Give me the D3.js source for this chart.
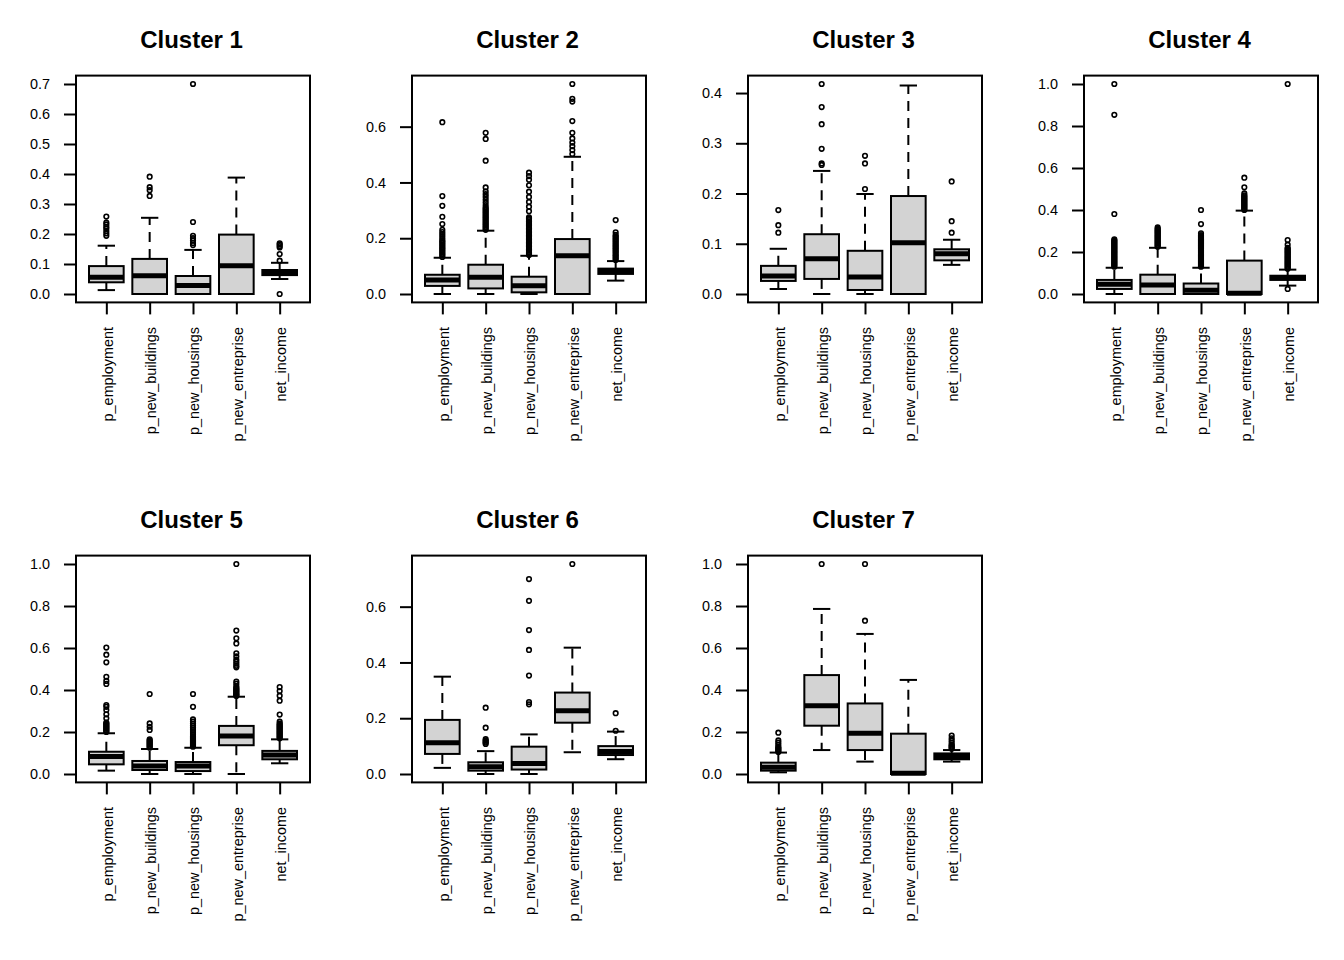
<!DOCTYPE html>
<html>
<head>
<meta charset="utf-8">
<script src="https://cdn.jsdelivr.net/npm/d3@7"></script>
<style>
  html, body { margin: 0; padding: 0; background: #ffffff; }
  svg { display: block; }
  text { font-family: "Liberation Sans", Arial, sans-serif; fill: #000; }
</style>
</head>
<body>
<svg id="chart" width="1344" height="960"></svg>
<script>
// ---------------- data ----------------
const variables = ["p_employment", "p_new_buildings", "p_new_housings", "p_new_entreprise", "net_income"];
const clusterTitles = ["Cluster 1", "Cluster 2", "Cluster 3", "Cluster 4", "Cluster 5", "Cluster 6", "Cluster 7"];

// box statistics per variable: [lower whisker, Q1, median, Q3, upper whisker]
const c1Stats = [[0.013, 0.039, 0.056, 0.093, 0.161], [0, 0, 0.061, 0.117, 0.254], [0, 0, 0.028, 0.060, 0.147], [0, 0, 0.094, 0.198, 0.388], [0.050, 0.063, 0.072, 0.080, 0.104]];
const c2Stats = [[0, 0.029, 0.050, 0.069, 0.130], [0, 0.020, 0.060, 0.105, 0.227], [0, 0.006, 0.030, 0.062, 0.137], [0, 0, 0.137, 0.197, 0.492], [0.048, 0.072, 0.081, 0.091, 0.118]];
const c3Stats = [[0.010, 0.026, 0.036, 0.056, 0.090], [0, 0.030, 0.070, 0.119, 0.245], [0, 0.008, 0.034, 0.086, 0.199], [0, 0, 0.102, 0.195, 0.415], [0.058, 0.067, 0.080, 0.089, 0.108]];
const c4Stats = [[0, 0.024, 0.046, 0.067, 0.125], [0, 0, 0.043, 0.092, 0.220], [0, 0, 0.018, 0.050, 0.125], [0, 0, 0.004, 0.159, 0.397], [0.040, 0.067, 0.079, 0.087, 0.116]];
const c5Stats = [[0.016, 0.046, 0.083, 0.106, 0.194], [0, 0.019, 0.038, 0.062, 0.119], [0, 0.014, 0.038, 0.057, 0.125], [0, 0.137, 0.181, 0.229, 0.368], [0.051, 0.070, 0.090, 0.110, 0.165]];
const c6Stats = [[0.022, 0.072, 0.112, 0.194, 0.349], [0, 0.012, 0.026, 0.042, 0.082], [0, 0.016, 0.038, 0.098, 0.142], [0.078, 0.184, 0.227, 0.292, 0.453], [0.053, 0.068, 0.081, 0.100, 0.152]];
const c7Stats = [[0.008, 0.016, 0.032, 0.054, 0.102], [0.114, 0.230, 0.325, 0.471, 0.786], [0.059, 0.114, 0.194, 0.336, 0.667], [0, 0, 0.004, 0.192, 0.448], [0.059, 0.070, 0.083, 0.098, 0.114]];

// outliers per variable
const c1Outliers = [
  [0.194, 0.202, 0.210, 0.218, 0.224, 0.232, 0.238, 0.258],
  [0.327, 0.346, 0.356, 0.391],
  [0.163, 0.170, 0.178, 0.186, 0.194, 0.240, 0.700],
  [],
  [0, 0.111, 0.133, 0.155, 0.160, 0.165, 0.169]
];
const c2Outliers = [
  [0.133, 0.138, 0.143, 0.148, 0.153, 0.158, 0.163, 0.168, 0.173, 0.178, 0.183, 0.188, 0.193, 0.200, 0.208, 0.215, 0.222, 0.230, 0.251, 0.277, 0.316, 0.351, 0.616],
  [0.230, 0.235, 0.240, 0.245, 0.250, 0.255, 0.260, 0.265, 0.270, 0.275, 0.280, 0.285, 0.290, 0.295, 0.300, 0.305, 0.310, 0.318, 0.328, 0.338, 0.348, 0.358, 0.368, 0.382, 0.478, 0.556, 0.578],
  [0.140, 0.145, 0.150, 0.155, 0.160, 0.165, 0.170, 0.175, 0.180, 0.185, 0.190, 0.195, 0.200, 0.205, 0.210, 0.215, 0.220, 0.225, 0.230, 0.235, 0.240, 0.245, 0.250, 0.255, 0.260, 0.265, 0.270, 0.275, 0.297, 0.313, 0.330, 0.348, 0.367, 0.390, 0.410, 0.423, 0.435],
  [0.502, 0.516, 0.530, 0.543, 0.558, 0.578, 0.620, 0.690, 0.700, 0.753],
  [0.122, 0.127, 0.132, 0.137, 0.142, 0.147, 0.152, 0.157, 0.162, 0.167, 0.172, 0.177, 0.182, 0.187, 0.192, 0.197, 0.202, 0.207, 0.212, 0.221, 0.265]
];
const c3Outliers = [
  [0.122, 0.137, 0.167],
  [0.257, 0.260, 0.289, 0.338, 0.372, 0.418],
  [0.209, 0.260, 0.275],
  [],
  [0.122, 0.145, 0.224]
];
const c4Outliers = [
  [0.130, 0.135, 0.140, 0.145, 0.150, 0.155, 0.160, 0.165, 0.170, 0.175, 0.180, 0.185, 0.190, 0.195, 0.200, 0.205, 0.210, 0.215, 0.220, 0.225, 0.230, 0.235, 0.240, 0.245, 0.250, 0.255, 0.260, 0.381, 0.853, 1.000],
  [0.225, 0.230, 0.235, 0.240, 0.245, 0.250, 0.255, 0.260, 0.265, 0.270, 0.275, 0.280, 0.285, 0.290, 0.295, 0.300, 0.305, 0.310, 0.317],
  [0.130, 0.135, 0.140, 0.145, 0.150, 0.155, 0.160, 0.165, 0.170, 0.175, 0.180, 0.185, 0.190, 0.195, 0.200, 0.205, 0.210, 0.215, 0.220, 0.225, 0.230, 0.235, 0.240, 0.245, 0.250, 0.255, 0.260, 0.265, 0.270, 0.275, 0.280, 0.289, 0.333, 0.400],
  [0.400, 0.405, 0.410, 0.415, 0.420, 0.425, 0.430, 0.435, 0.440, 0.445, 0.450, 0.455, 0.460, 0.465, 0.470, 0.479, 0.508, 0.554],
  [0.024, 0.120, 0.125, 0.130, 0.135, 0.140, 0.145, 0.150, 0.155, 0.160, 0.165, 0.170, 0.175, 0.180, 0.185, 0.190, 0.195, 0.200, 0.205, 0.210, 0.215, 0.220, 0.235, 0.257, 1.000]
];
const c5Outliers = [
  [0.200, 0.205, 0.210, 0.215, 0.220, 0.225, 0.230, 0.235, 0.240, 0.245, 0.265, 0.284, 0.305, 0.320, 0.328, 0.429, 0.443, 0.463, 0.532, 0.568, 0.602],
  [0.125, 0.130, 0.135, 0.140, 0.145, 0.150, 0.155, 0.160, 0.165, 0.210, 0.225, 0.241, 0.381],
  [0.130, 0.135, 0.140, 0.145, 0.150, 0.155, 0.160, 0.165, 0.170, 0.175, 0.180, 0.190, 0.200, 0.210, 0.220, 0.230, 0.240, 0.250, 0.260, 0.320, 0.381],
  [0.372, 0.376, 0.380, 0.385, 0.390, 0.395, 0.400, 0.405, 0.410, 0.418, 0.430, 0.440, 0.508, 0.515, 0.525, 0.535, 0.545, 0.560, 0.575, 0.622, 0.646, 0.683, 1.000],
  [0.170, 0.175, 0.180, 0.185, 0.190, 0.195, 0.200, 0.205, 0.210, 0.215, 0.220, 0.225, 0.230, 0.235, 0.240, 0.249, 0.283, 0.349, 0.373, 0.395, 0.414]
];
const c6Outliers = [
  [],
  [0.108, 0.112, 0.116, 0.120, 0.125, 0.166, 0.238],
  [0.250, 0.258, 0.353, 0.445, 0.516, 0.621, 0.699],
  [0.753],
  [0.155, 0.218]
];
const c7Outliers = [
  [0.105, 0.110, 0.115, 0.120, 0.125, 0.130, 0.140, 0.150, 0.160, 0.197],
  [1.000],
  [0.730, 1.000],
  [],
  [0.120, 0.125, 0.130, 0.135, 0.140, 0.150, 0.160, 0.170, 0.183]
];

// y tick labels per panel
const c1Ticks = [0.0, 0.1, 0.2, 0.3, 0.4, 0.5, 0.6, 0.7];
const c2Ticks = [0.0, 0.2, 0.4, 0.6];
const c3Ticks = [0.0, 0.1, 0.2, 0.3, 0.4];
const c4Ticks = [0.0, 0.2, 0.4, 0.6, 0.8, 1.0];
const c5Ticks = [0.0, 0.2, 0.4, 0.6, 0.8, 1.0];
const c6Ticks = [0.0, 0.2, 0.4, 0.6];
const c7Ticks = [0.0, 0.2, 0.4, 0.6, 0.8, 1.0];

const allStats = [c1Stats, c2Stats, c3Stats, c4Stats, c5Stats, c6Stats, c7Stats];
const allOutliers = [c1Outliers, c2Outliers, c3Outliers, c4Outliers, c5Outliers, c6Outliers, c7Outliers];
const allTicks = [c1Ticks, c2Ticks, c3Ticks, c4Ticks, c5Ticks, c6Ticks, c7Ticks];

// ---------------- drawing ----------------
const svg = d3.select("#chart");
const FILL = "#d3d3d3";

clusterTitles.forEach((title, i) => {
  const col = i % 4, row = Math.floor(i / 4);
  const left = 76 + 336 * col;
  const top = 75.6 + 480 * row;
  const w = 234, h = 226.8;
  const stats = allStats[i], outs = allOutliers[i];

  const vals = [];
  stats.forEach(s => vals.push(s[0], s[4]));
  outs.forEach(o => o.forEach(v => vals.push(v)));
  const lo = d3.min(vals), hi = d3.max(vals);
  const pad = 0.04 * (hi - lo);

  const y = d3.scaleLinear().domain([lo - pad, hi + pad]).range([top + h, top]);
  const x = d3.scalePoint().domain(variables).range([left, left + w]).padding(0.7);
  const bw = x.step() * 0.8;
  const sw = x.step() * 0.4;

  const g = svg.append("g");

  // title
  g.append("text")
    .attr("x", left + w / 2 - 1.5)
    .attr("y", top - 27.6)
    .attr("text-anchor", "middle")
    .style("font-weight", "bold")
    .style("font-size", "24px")
    .text(title);

  // boxes
  variables.forEach((v, j) => {
    const s = stats[j];
    const cx = x(v);
    const bg = g.append("g");
    // whiskers (dashed)
    bg.append("line").attr("x1", cx).attr("x2", cx).attr("y1", y(s[3])).attr("y2", y(s[4]))
      .attr("stroke", "#000").attr("stroke-width", 2).attr("stroke-dasharray", "10,7");
    bg.append("line").attr("x1", cx).attr("x2", cx).attr("y1", y(s[1])).attr("y2", y(s[0]))
      .attr("stroke", "#000").attr("stroke-width", 2).attr("stroke-dasharray", "10,7");
    // staples
    [s[0], s[4]].forEach(val => {
      bg.append("line").attr("x1", cx - sw / 2).attr("x2", cx + sw / 2).attr("y1", y(val)).attr("y2", y(val))
        .attr("stroke", "#000").attr("stroke-width", 2);
    });
    // box
    bg.append("rect").attr("x", cx - bw / 2).attr("y", y(s[3])).attr("width", bw)
      .attr("height", Math.max(0, y(s[1]) - y(s[3])))
      .attr("fill", FILL).attr("stroke", "#000").attr("stroke-width", 2);
    // median
    bg.append("line").attr("x1", cx - bw / 2).attr("x2", cx + bw / 2).attr("y1", y(s[2])).attr("y2", y(s[2]))
      .attr("stroke", "#000").attr("stroke-width", 5);
    // outliers
    bg.selectAll("circle").data(outs[j]).enter().append("circle")
      .attr("cx", cx).attr("cy", d => y(d)).attr("r", 2.3)
      .attr("fill", "none").attr("stroke", "#000").attr("stroke-width", 1.6);
  });

  // frame
  g.append("rect").attr("x", left).attr("y", top).attr("width", w).attr("height", h)
    .attr("fill", "none").attr("stroke", "#000").attr("stroke-width", 2);

  // y axis
  const ya = g.append("g").attr("transform", `translate(${left},0)`)
    .call(d3.axisLeft(y).tickValues(allTicks[i]).tickSize(12).tickPadding(14).tickFormat(d3.format(".1f")));
  ya.select(".domain").remove();
  ya.selectAll("line").attr("stroke-width", 2);
  ya.selectAll("text").style("font-size", "14.4px").style("font-family", "'Liberation Sans', Arial, sans-serif");

  // x axis
  const xa = g.append("g").attr("transform", `translate(0,${top + h})`)
    .call(d3.axisBottom(x).tickSize(12));
  xa.select(".domain").remove();
  xa.selectAll("line").attr("stroke-width", 2);
  xa.selectAll("text")
    .style("font-size", "14.4px").style("font-family", "'Liberation Sans', Arial, sans-serif")
    .attr("transform", "rotate(-90)")
    .attr("x", -24.6).attr("y", 0).attr("dy", "0.4em")
    .attr("text-anchor", "end");
});
</script>
</body>
</html>
